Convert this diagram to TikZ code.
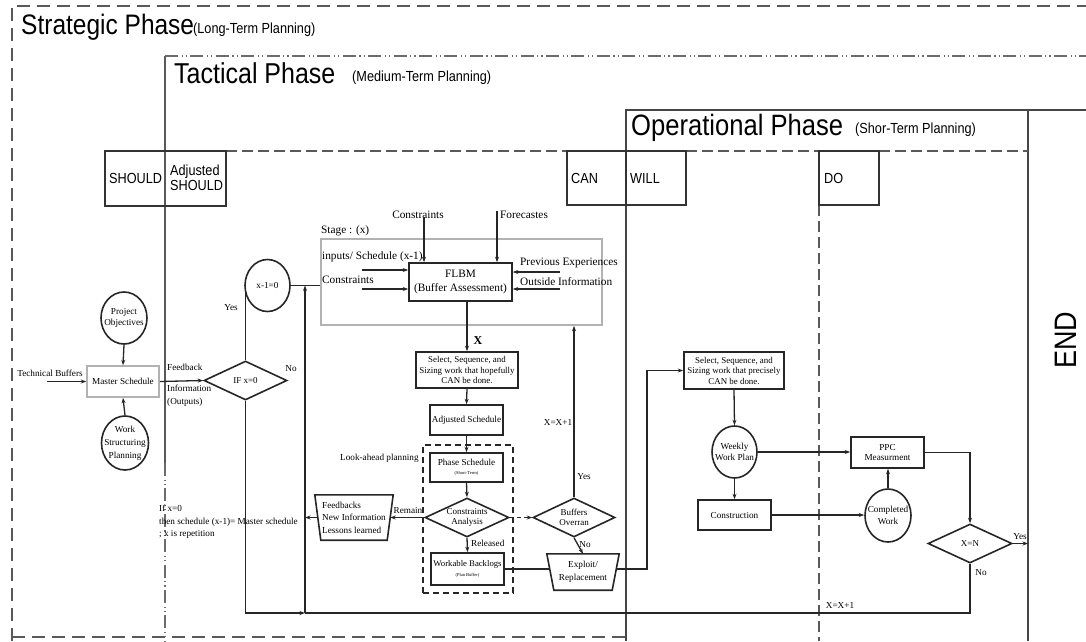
\documentclass[tikz,border=0pt]{standalone}
\usepackage{fontspec}
\setmainfont{Liberation Serif}
\newfontfamily\arial{Liberation Sans}
\usetikzlibrary{shapes.geometric,arrows.meta,calc}
\newcommand{\fsz}[2]{\fontsize{#1}{#2}\selectfont}
\newcommand{\tall}[1]{\scalebox{1}[1.15]{#1}}
\begin{document}
\begin{tikzpicture}[x=1pt,y=-1pt,
  ln/.style={line width=1.3pt, draw=black!85},
  arr/.style={ln, -{Stealth[length=5.5pt,width=4pt]}},
  bx/.style={draw=black!85, line width=1.6pt, rectangle, inner sep=0pt, align=center, font=\fsz{9.2}{10.5}},
  gbx/.style={bx, draw=gray!60},
  ell/.style={draw=black!85, line width=1.6pt, ellipse, inner sep=0pt},
  lbl/.style={font=\fsz{9.2}{11.5}, align=center, inner sep=0pt},
  dia/.style={draw=black!85, line width=1.6pt, diamond, aspect=2.1, inner sep=0pt, align=center, font=\fsz{9}{10.5}},
  txt/.style={font=\fsz{9.2}{12.5}, inner sep=0pt, align=left},
  stxt/.style={font=\fsz{11.3}{13}, inner sep=0pt, align=left},
  sframe/.style={draw=gray!70!black, line width=1.1pt, dash pattern=on 13pt off 7pt},
  tframe/.style={draw=gray!85!black, line width=1.2pt, dash pattern=on 13pt off 3.5pt on 1.2pt off 3pt on 1.2pt off 3.5pt},
  gline/.style={draw=gray!70!black, line width=1.1pt},
  oline/.style={draw=gray!55!black, line width=1.3pt},
  dline/.style={draw=gray!70!black, line width=1.1pt, dash pattern=on 11pt off 5pt},
  colbox/.style={draw=black!80, line width=1.5pt, rectangle, inner sep=0pt},
  coltxt/.style={font=\arial\fsz{12.7}{15.5}, inner sep=0pt, align=left},
  bigt/.style={font=\arial\fsz{25}{28}, inner sep=0pt, anchor=base west},
  smallt/.style={font=\arial\fsz{12.7}{14}, inner sep=0pt, anchor=base west},
  trap/.style={inner sep=0pt, align=center, font=\fsz{9.2}{12.5}}
]
\useasboundingbox (0,0) rectangle (1086,641);

% ---------- phase frames ----------
\draw[sframe] (12,641) -- (12,6) -- (1086,6);
\draw[sframe] (12,637) -- (626,637);
\draw[tframe] (165,463) -- (165,641);
\draw[gline] (165,463) -- (165,56);
\draw[tframe] (165,56) -- (1086,56);
\draw[oline] (626,641) -- (626,110) -- (1086,110);
\draw[oline] (1028,110) -- (1028,641);
\draw[dline] (226,151) -- (567,151);
\draw[dline] (686,151) -- (819,151);
\draw[dline] (879,151) -- (1028,151);
\draw[dline] (819,205) -- (819,641);

\node[bigt, font=\arial\fsz{24.5}{28}] (strat) at (21,34) {\tall{Strategic Phase}};
\node[smallt] (stratsub) at (193,33) {\tall{(Long-Term Planning)}};
\node[bigt] (tact) at (174,83) {\tall{Tactical Phase}};
\node[smallt] (tactsub) at (352,81) {\tall{(Medium-Term Planning)}};
\node[bigt, font=\arial\fsz{25.6}{28}] (oper) at (631,135) {\tall{Operational Phase}};
\node[smallt] (opersub) at (855,133) {\tall{(Shor-Term Planning)}};
\node[font=\arial\fsz{27}{30}, rotate=90, inner sep=0pt] (endt) at (1066,340) {\tall{END}};

% ---------- column headers ----------
\node[colbox, minimum width=121pt, minimum height=55pt] (shouldbox) at (165.5,178.5) {};
\node[coltxt, anchor=west] (should) at (109,178) {\tall{SHOULD}};
\node[coltxt, anchor=west] (adjshould) at (170,178) {\tall{Adjusted}\\\tall{SHOULD}};
\node[colbox, minimum width=59pt, minimum height=54pt] (canbox) at (596.5,178) {};
\node[coltxt, anchor=west] (can) at (571,178) {\tall{CAN}};
\node[colbox, minimum width=60pt, minimum height=54pt] (willbox) at (656,178) {};
\node[coltxt, anchor=west] (will) at (630,178) {\tall{WILL}};
\node[colbox, minimum width=60pt, minimum height=54pt] (dobox) at (849,178) {};
\node[coltxt, anchor=west] (do) at (824,178) {\tall{DO}};

% ---------- strategic part ----------
\node[ell, minimum width=46pt, minimum height=52pt, label={[lbl]center:{Project\\Objectives}}] (po) at (124,318) {};
\node[gbx, minimum width=72pt, minimum height=31pt] (ms) at (123,381.5) {Master Schedule};
\node[ell, minimum width=47pt, minimum height=54pt, label={[lbl, font=\fsz{9.2}{13}]center:{Work\\Structuring\\Planning}}] (wsp) at (125,443) {};
\node[txt] (tbt) at (50,373) {Technical Buffers};
\coordinate (tbs) at (47,381.5);
\draw[arr] (tbs) -- (ms.west);
\draw[arr] (po.south) -- (ms.north);
\draw[arr] (wsp.north) -- (ms.south);

% ---------- decision IF x=0 ----------
\node[dia, minimum width=83pt, minimum height=39pt] (ifx) at (245.5,380.5) {IF x=0};
\draw[arr] (ms.east) -- (ifx.west);
\node[txt, anchor=west] (fbk) at (167,367) {Feedback};
\node[txt, anchor=north west] (info) at (167,385) {Information\\(Outputs)};
\node[txt] (ifno) at (291,369) {No};
\node[ell, minimum width=45pt, minimum height=52pt, label={[lbl]center:{x-1=0}}] (xc) at (267.5,285.5) {};
\draw[ln] (ifx.north) -- (ifx.north |- xc.west);
\node[txt] (ifyes) at (231,308) {Yes};
\node[txt, anchor=north west] (ifnote) at (159,505) {If x=0\\then schedule (x-1)= Master schedule\\; x is repetition};

% ---------- stage box ----------
\node[gbx, minimum width=281pt, minimum height=86pt] (stage) at (461.5,282) {};
\draw[ln] (xc.east) -- (xc.east -| stage.west);
\node[stxt, anchor=west] (stagel) at (321,231) {Stage : (x)};
\node[bx, font=\fsz{11.3}{14}, minimum width=103pt, minimum height=38pt] (flbm) at (460.5,282) {FLBM\\(Buffer Assessment)};
\node[stxt, anchor=west] (inp) at (322,257) {inputs/ Schedule (x-1)};
\node[stxt, anchor=west] (cin) at (322,280) {Constraints};
\coordinate (a1) at (362,270);
\coordinate (a2) at (362,289);
\draw[arr] (a1) -- (a1 -| flbm.west);
\draw[arr] (a2) -- (a2 -| flbm.west);
\node[stxt] (ctop) at (418,215) {Constraints};
\coordinate (ctl) at (424,217);
\draw[arr] (ctl) -- (ctl |- flbm.north);
\node[stxt, anchor=west] (fore) at (500,215) {Forecastes};
\coordinate (fl) at (497,211);
\draw[arr] (fl) -- (fl |- flbm.north);
\node[stxt, anchor=west] (prev) at (520,263) {Previous Experiences};
\node[stxt, anchor=west] (outs) at (520,282) {Outside Information};
\coordinate (b1) at (560,272);
\coordinate (b2) at (560,289);
\draw[arr] (b1) -- (b1 -| flbm.east);
\draw[arr] (b2) -- (b2 -| flbm.east);

% ---------- tactical chain ----------
\node[bx, font=\fsz{8.9}{10.5}, minimum width=102pt, minimum height=36pt] (sel1) at (467,370) {Select, Sequence, and\\Sizing work that hopefully\\CAN be done.};
\draw[arr] (sel1.north |- flbm.south) -- (sel1.north);
\node[font=\bfseries\fsz{12}{14}, inner sep=0pt] (xl) at (478,341) {X};
\node[bx, minimum width=73pt, minimum height=30pt] (adj) at (466.5,420) {Adjusted Schedule};
\draw[arr] (sel1.south) -- (adj.north);
\node[draw=black!85, line width=1.5pt, dash pattern=on 6pt off 4pt, minimum width=90pt, minimum height=148pt, inner sep=0pt] (la) at (468,519) {};
\node[txt, anchor=west] (lal) at (340,458) {Look-ahead planning};
\node[bx, minimum width=73pt, minimum height=29pt] (ps) at (466.5,467.5) {Phase Schedule\\[-1pt]{\fsz{4.5}{5}(Short-Term)}};
\draw[arr] (adj.south) -- (ps.north);
\node[dia, minimum width=84pt, minimum height=39pt] (ca) at (467,517.5) {Constraints\\Analysis};
\draw[arr] (ps.south) -- (ca.north);
\node[bx, font=\fsz{8.7}{10.5}, minimum width=73pt, minimum height=32pt] (wb) at (467.5,569) {Workable Backlogs\\[-1pt]{\fsz{4.5}{5}(Plan Buffer)}};
\draw[arr] (ca.south) -- (wb.north);
\node[txt, anchor=west] (rel) at (471,543) {Released};

\node[trap, minimum width=72pt, minimum height=45pt, align=left] (fb) at (354,517.5) {Feedbacks\\New Information\\Lessons learned};
\draw[line width=1.6pt, draw=black!85] ($(fb.north west)+(-3,0)$) -- ($(fb.north east)+(3,0)$) -- ($(fb.south east)+(-3,0)$) -- ($(fb.south west)+(3,0)$) -- cycle;
\draw[arr] (ca.west) -- (fb.east);
\node[txt] (rem) at (408,510) {Remain};

\node[dia, minimum width=82pt, minimum height=39pt] (bo) at (574,517.5) {Buffers\\Overran};
\draw[arr, dash pattern=on 4pt off 3pt] (ca.east) -- (bo.west);
\draw[arr] (bo.north) -- (bo.north |- stage.south);
\node[txt] (boyes) at (584,477) {Yes};
\node[txt] (xx1) at (558,422) {X=X+1};
\node[trap, minimum width=65pt, minimum height=36pt] (ex) at (583,572) {Exploit/\\Replacement};
\draw[line width=1.6pt, draw=black!85] ($(ex.north west)+(-3.5,0)$) -- ($(ex.north east)+(3.5,0)$) -- ($(ex.south east)+(-3.5,0)$) -- ($(ex.south west)+(3.5,0)$) -- cycle;
\draw[arr] (bo.south) -- (ex.north);
\node[txt] (bono) at (585,545) {No};
\draw[ln] (wb.east) -- (wb.east -| ex.west);

% ---------- operational ----------
\node[bx, font=\fsz{8.9}{10.5}, minimum width=100pt, minimum height=37pt] (sel2) at (734,370.5) {Select, Sequence, and\\Sizing work that precisely\\CAN be done.};
\coordinate (exr) at (647,569);
\draw[arr] (ex.east |- exr) -- (exr) |- (sel2.west);
\node[ell, minimum width=45pt, minimum height=52pt, label={[lbl]center:{Weekly\\Work Plan}}] (wwp) at (734.5,452) {};
\draw[arr] (sel2.south) -- (wwp.north);
\node[bx, minimum width=73pt, minimum height=30pt] (con) at (734.5,515) {Construction};
\draw[arr] (wwp.south) -- (con.north);
\node[bx, minimum width=73pt, minimum height=31pt] (ppc) at (887.5,452.5) {PPC\\Measurment};
\draw[arr] (wwp.east) -- (wwp.east -| ppc.west);
\node[ell, minimum width=46pt, minimum height=53pt, label={[lbl]center:{Completed\\Work}}] (cw) at (888,515.5) {};
\draw[arr] (con.east) -- (con.east -| cw.west);
\draw[arr] (cw.north) -- (cw.north |- ppc.south);
\node[dia, minimum width=84pt, minimum height=39pt] (xn) at (970,543.5) {X=N};
\draw[arr] (ppc.east) -| (xn.north);
\coordinate (endp) at (1028,543.5);
\draw[arr] (xn.east) -- (endp);
\node[txt] (xnyes) at (1020,537) {Yes};
\node[txt] (xnno) at (981,573) {No};
\node[txt] (xx2) at (840,605) {X=X+1};

% ---------- return loop ----------
\coordinate (loopx) at (305,613);
\coordinate (ret) at (305,285.5);
\draw[ln] (xn.south) |- (loopx);
\draw[arr] (ifx.south) |- (loopx);
\draw[arr] (loopx) -- (ret);
\draw[arr] (fb.west) -- (fb.west -| loopx);
\end{tikzpicture}
\end{document}
